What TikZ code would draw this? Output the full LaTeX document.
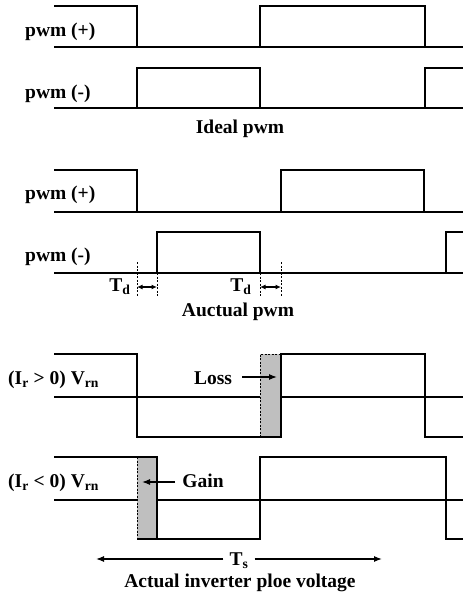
\documentclass[tikz,border=0pt]{standalone}
\usepackage{fontspec}
\setmainfont{Liberation Serif}
\usetikzlibrary{arrows.meta}
\begin{document}
\begin{tikzpicture}[x=1pt,y=-1pt,
  wave/.style={line width=1.4pt, line join=miter},
  lbl/.style={font=\fontsize{19.5}{22}\selectfont\bfseries, inner sep=0pt},
  guide/.style={line width=1pt, dash pattern=on 2pt off 1.5pt},
  tipline/.style={line width=1.2pt, -{Latex[length=8pt,width=6pt]}},
  dbl/.style={line width=1.3pt, {Latex[length=5.5pt,width=5pt]}-{Latex[length=5.5pt,width=5pt]}},
  shade/.style={fill=black!25}]
\useasboundingbox (0,0) rectangle (463,597);

% ---------- ideal pwm ----------
\draw[wave] (54,47) -- (463,47);
\draw[wave] (54,6) -- (137,6) -- (137,47);
\draw[wave] (260,47) -- (260,6) -- (425,6) -- (425,47);
\node[lbl, anchor=base west] (ip) at (25,36) {pwm (+)};

\draw[wave] (54,108) -- (463,108);
\draw[wave] (137,108) -- (137,68) -- (260,68) -- (260,108);
\draw[wave] (425,108) -- (425,68) -- (463,68);
\node[lbl, anchor=base west] (im) at (25,98) {pwm (-)};
\node[lbl, anchor=base] (ideal) at (240,133) {Ideal pwm};

% ---------- actual pwm with dead time ----------
\draw[wave] (54,212) -- (463,212);
\draw[wave] (54,170) -- (137,170) -- (137,212);
\draw[wave] (281,212) -- (281,170) -- (424,170) -- (424,212);
\node[lbl, anchor=base west] (ap) at (25,199) {pwm (+)};

\draw[wave] (54,273) -- (463,273);
\draw[wave] (157,273) -- (157,232) -- (260,232) -- (260,273);
\draw[wave] (446,273) -- (446,232) -- (463,232);
\node[lbl, anchor=base west] (am) at (25,261) {pwm (-)};

\coordinate (d1a) at (137,287);
\coordinate (d1b) at (157,287);
\coordinate (d2a) at (260,287);
\coordinate (d2b) at (281,287);
\draw[guide] (137,262) -- (137,297);
\draw[guide] (157,273) -- (157,297);
\draw[guide] (260,273) -- (260,297);
\draw[guide] (281,262) -- (281,297);
\draw[dbl] (d1a) -- (d1b);
\draw[dbl] (d2a) -- (d2b);
\node[lbl, anchor=base] (td1) at (120,291) {T\textsubscript{d}};
\node[lbl, anchor=base] (td2) at (241,291) {T\textsubscript{d}};
\node[lbl, anchor=base] (actual) at (238,316) {Auctual pwm};

% ---------- pole voltage, positive current ----------
\fill[shade] (260,354) rectangle (281,437);
\draw[wave] (54,354) -- (137,354) -- (137,437) -- (281,437) -- (281,354) -- (425,354) -- (425,437) -- (463,437);
\draw[wave] (54,397) -- (260,397);
\draw[wave] (281,397) -- (463,397);
\draw[guide] (260,437) -- (260,354) -- (281,354);
\node[lbl, anchor=base west] (vp) at (8,384) {(I\textsubscript{r} > 0) V\textsubscript{rn}};
\node[lbl, anchor=base] (loss) at (213,384) {Loss};
\coordinate (lossend) at (277,377);
\draw[tipline] (242,377) -- (lossend);

% ---------- pole voltage, negative current ----------
\fill[shade] (137,457) rectangle (157,539);
\draw[wave] (54,457) -- (157,457) -- (157,539) -- (260,539) -- (260,457) -- (446,457) -- (446,539) -- (463,539);
\draw[wave] (137,539) -- (157,539);
\draw[wave] (54,500) -- (137,500);
\draw[wave] (157,500) -- (463,500);
\draw[guide] (137,457) -- (137,539);
\node[lbl, anchor=base west] (vn) at (8,487) {(I\textsubscript{r} < 0) V\textsubscript{rn}};
\node[lbl, anchor=base] (gain) at (203,487) {Gain};
\coordinate (gainend) at (142,482);
\draw[tipline] (175,482) -- (gainend);

% ---------- switching period ----------
\node[lbl, anchor=base, inner xsep=6pt] (ts) at (239,565) {T\textsubscript{s}};
\coordinate (tsl) at (96,559);
\coordinate (tsr) at (382,559);
\draw[tipline] (ts.west |- tsl) -- (tsl);
\draw[tipline] (ts.east |- tsr) -- (tsr);
\node[lbl, anchor=base] (title) at (240,587) {Actual inverter ploe voltage};
\end{tikzpicture}
\end{document}
